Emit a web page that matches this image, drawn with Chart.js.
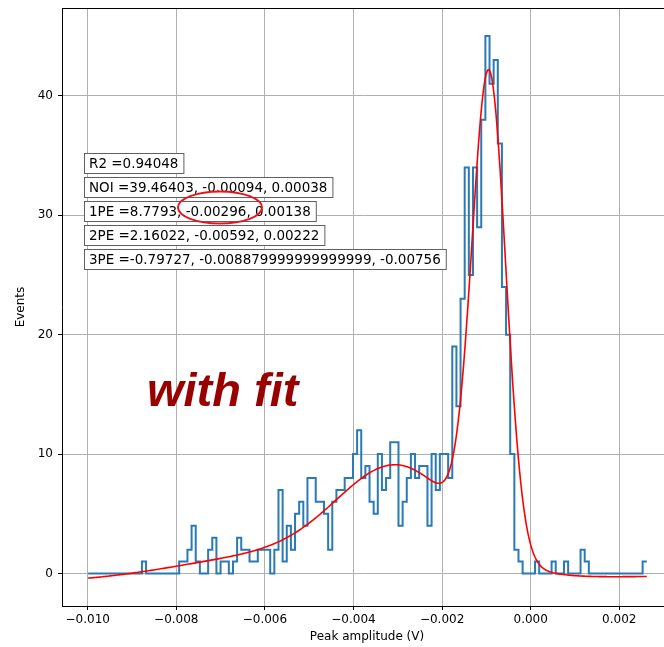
<!DOCTYPE html>
<html>
<head>
<meta charset="utf-8">
<script src="https://cdn.jsdelivr.net/npm/chart.js@4/dist/chart.umd.min.js"></script>
<style>
  body { margin: 0; background: #fff; }
  #wrap { position: relative; width: 664px; height: 647px; }
</style>
</head>
<body>
<div id="wrap"><canvas id="peakChart"></canvas></div>
<script>
// histogram of peak amplitudes (V), equal bins between binLo and binHi
const binLo = -0.00999;
const binHi = 0.00262;
const counts = [
  0, 0, 0, 0, 0, 0, 0, 0, 0, 0, 0, 0, 0, 1, 0, 0, 0, 0, 0, 0,
  0, 0, 1, 1, 2, 4, 1, 0, 0, 2, 3, 0, 1, 1, 0, 1, 3, 2, 2, 1,
  1, 2, 2, 2, 0, 2, 7, 1, 4, 2, 5, 6, 4, 8, 8, 6, 6, 5, 2, 6,
  7, 7, 8, 8, 10, 12, 8, 9, 6, 5, 10, 7, 8, 11, 11, 4, 6, 8, 10, 8,
  9, 9, 4, 10, 7, 10, 10, 8, 19, 14, 23, 34, 25, 34, 29, 38, 45, 41, 43, 36,
  24, 20, 10, 2, 1, 0, 0, 0, 1, 0, 0, 0, 1, 0, 0, 1, 0, 0, 0, 2,
  1, 0, 0, 0, 0, 0, 0, 0, 0, 0, 0, 0, 0, 0, 1
];

const xTicks = [-0.010, -0.008, -0.006, -0.004, -0.002, 0.000, 0.002];
const yTicks = [0, 10, 20, 30, 40];

// fit result: amplitude, mean, sigma of each gaussian
const r2 = 0.94048;
const fitNames = ['NOI', '1PE', '2PE', '3PE'];
const fitAmp = [39.46403, 8.7793, 2.16022, -0.79727];
const fitMean = [-0.00094, -0.00296, -0.00592, -0.008879999999999999];
const fitSigma = [0.00038, 0.00138, 0.00222, -0.00756];

// step outline of the histogram
const binW = (binHi - binLo) / counts.length;
const histPoints = counts.map((c, i) => ({ x: binLo + i * binW, y: c }));
histPoints.push({ x: binHi, y: counts[counts.length - 1] });

function fitModel(x) {
  let s = 0;
  for (let i = 0; i < fitAmp.length; i++) {
    s += fitAmp[i] * Math.exp(-Math.pow(x - fitMean[i], 2) / (2 * fitSigma[i] * fitSigma[i]));
  }
  return s;
}

const fitPoints = [];
for (let k = 0; k <= 400; k++) {
  const x = binLo + (binHi - binLo) * k / 400;
  fitPoints.push({ x: x, y: fitModel(x) });
}

function fmtTick(v) {
  if (Math.abs(v) < 1e-12) return '0.000';
  return (v < 0 ? '\u2212' : '') + Math.abs(v).toFixed(3);
}

// top spine, axis labels, fit parameter boxes and notes
const overlay = {
  id: 'overlay',
  afterDraw(chart) {
    const ctx = chart.ctx;
    const area = chart.chartArea;
    ctx.save();

    ctx.strokeStyle = '#000';
    ctx.lineWidth = 1;
    ctx.beginPath();
    ctx.moveTo(area.left, Math.round(area.top) + 0.5);
    ctx.lineTo(area.right, Math.round(area.top) + 0.5);
    ctx.stroke();

    ctx.fillStyle = '#000';
    ctx.font = '12px "DejaVu Sans"';
    ctx.textAlign = 'center';
    ctx.textBaseline = 'middle';
    ctx.fillText('Peak amplitude (V)', 367, 637);
    ctx.save();
    ctx.translate(21, 307);
    ctx.rotate(-Math.PI / 2);
    ctx.fillText('Events', 0, 0);
    ctx.restore();

    const lines = ['R2 =' + r2];
    fitNames.forEach((n, i) => {
      lines.push(n + ' =' + fitAmp[i] + ', ' + fitMean[i] + ', ' + fitSigma[i]);
    });
    const boxTops = [153, 177, 201, 225, 249];
    ctx.font = '13.5px "DejaVu Sans"';
    ctx.textAlign = 'left';
    lines.forEach((t, i) => {
      const w = ctx.measureText(t).width;
      const x = 84, y = boxTops[i];
      ctx.fillStyle = '#fff';
      ctx.fillRect(x + 0.5, y + 0.5, w + 10, 20);
      ctx.strokeStyle = '#606060';
      ctx.strokeRect(x + 0.5, y + 0.5, w + 10, 20);
      ctx.fillStyle = '#000';
      ctx.fillText(t, x + 5, y + 11);
    });

    ctx.strokeStyle = '#e8141b';
    ctx.lineWidth = 2;
    ctx.beginPath();
    ctx.ellipse(220, 207.5, 42, 16, 0, 0, Math.PI * 2);
    ctx.stroke();

    ctx.fillStyle = '#990000';
    ctx.font = 'italic bold 47px "Liberation Sans"';
    ctx.textBaseline = 'alphabetic';
    ctx.fillText('with fit', 147, 406);

    ctx.restore();
  }
};

new Chart(document.getElementById('peakChart'), {
  type: 'line',
  data: {
    datasets: [
      {
        label: 'fit',
        data: fitPoints,
        borderColor: '#ff0000',
        borderWidth: 1.6,
        pointRadius: 0,
        tension: 0
      },
      {
        label: 'peaks',
        data: histPoints,
        stepped: true,
        borderColor: '#2a7ab4',
        borderWidth: 2,
        borderJoinStyle: 'miter',
        pointRadius: 0
      }
    ]
  },
  options: {
    responsive: true,
    maintainAspectRatio: false,
    animation: false,
    layout: { padding: { left: 0, top: 8, right: 0, bottom: 0 } },
    plugins: {
      legend: { display: false },
      tooltip: { enabled: false }
    },
    scales: {
      x: {
        type: 'linear',
        min: -0.01058,
        max: 0.003009,
        afterBuildTicks: s => { s.ticks = xTicks.map(v => ({ value: v })); },
        afterFit: s => { s.height = 41; s.paddingLeft = 0; s.paddingRight = 0; },
        grid: { color: '#b0b0b0', lineWidth: 1, tickColor: '#000', tickLength: 4 },
        border: { color: '#000', width: 1 },
        ticks: {
          color: '#000',
          font: { family: 'DejaVu Sans', size: 12 },
          padding: 3,
          maxRotation: 0,
          autoSkip: false,
          callback: v => fmtTick(v)
        }
      },
      y: {
        type: 'linear',
        min: -2.72,
        max: 47.35,
        afterBuildTicks: s => { s.ticks = yTicks.map(v => ({ value: v })); },
        afterFit: s => { s.width = 62; s.paddingTop = 0; s.paddingBottom = 0; },
        grid: { color: '#b0b0b0', lineWidth: 1, tickColor: '#000', tickLength: 4 },
        border: { color: '#000', width: 1 },
        ticks: {
          color: '#000',
          font: { family: 'DejaVu Sans', size: 12 },
          padding: 5,
          autoSkip: false
        }
      }
    }
  },
  plugins: [overlay]
});
</script>
</body>
</html>
